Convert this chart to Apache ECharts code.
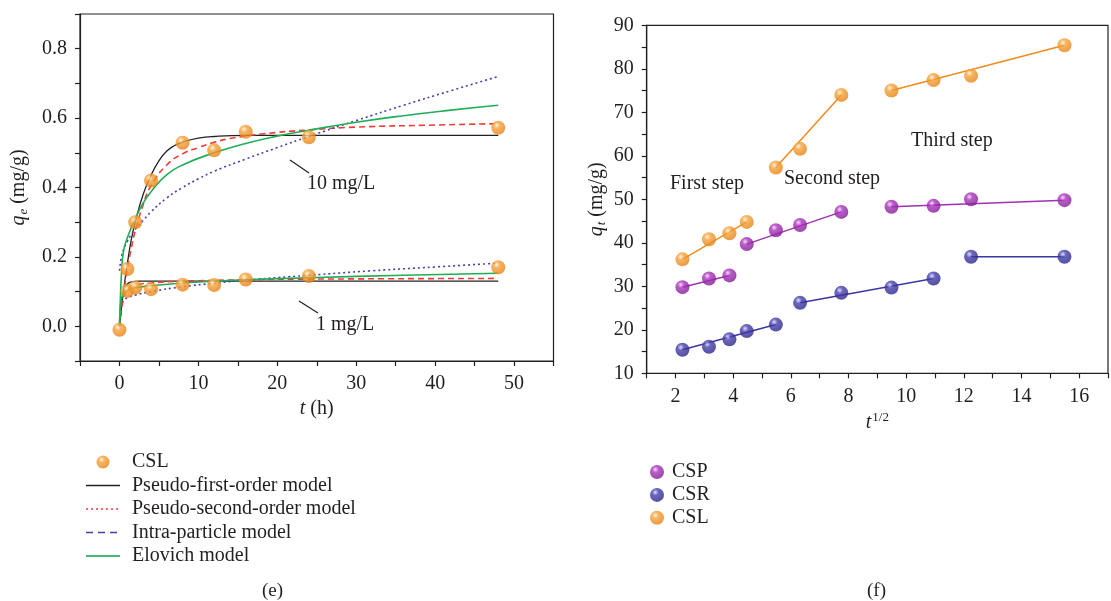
<!DOCTYPE html>
<html>
<head>
<meta charset="utf-8">
<script src="https://cdn.jsdelivr.net/npm/echarts@6.0.0/dist/echarts.min.js"></script>
<style>
  html, body { margin: 0; padding: 0; background: #fff; }
  #main { width: 1111px; height: 601px; }
</style>
</head>
<body>
<div id="main"></div>
<script>
// ---- (e) adsorption kinetics, CSL ----
const tHours = [0, 1, 2, 4, 8, 12, 16, 24, 48];
const csl10 = [-0.01, 0.165, 0.30, 0.42, 0.529, 0.507, 0.561, 0.545, 0.572];
const csl1 = [-0.01, 0.102, 0.112, 0.107, 0.12, 0.119, 0.135, 0.145, 0.17];

// model curves, [t, qe]
const pfo10 = [[0,0],[0.5,0.1],[1,0.18],[1.5,0.25],[2,0.30],[3,0.38],[4,0.435],[5,0.477],[6,0.505],[7,0.521],[8,0.531],[10,0.542],[12,0.547],[16,0.55],[24,0.55],[48,0.55]];
const pso10 = [[0,0],[0.5,0.09],[1,0.165],[1.5,0.225],[2,0.275],[3,0.35],[4,0.405],[6,0.465],[8,0.497],[10,0.515],[12,0.53],[14,0.541],[18,0.554],[24,0.566],[30,0.574],[40,0.58],[48,0.584]];
const ipd10 = [[0,0.16],[0.25,0.2],[0.5,0.22],[1,0.245],[2,0.28],[3,0.305],[4,0.33],[6,0.37],[8,0.4],[10,0.425],[12,0.447],[16,0.482],[20,0.515],[24,0.547],[30,0.593],[36,0.637],[42,0.679],[48,0.72]];
const elo10 = [[0,0],[0.1,0.07],[0.25,0.15],[0.5,0.215],[1,0.255],[2,0.31],[3,0.355],[4,0.388],[6,0.437],[8,0.465],[12,0.5],[16,0.527],[20,0.548],[24,0.565],[30,0.588],[36,0.607],[42,0.623],[48,0.637]];

const pfo1 = [[0,0],[0.3,0.07],[0.6,0.105],[1,0.122],[1.5,0.128],[2.5,0.13],[10,0.13],[48,0.13]];
const pso1 = [[0,0],[0.5,0.08],[1,0.105],[2,0.118],[4,0.125],[8,0.13],[16,0.134],[24,0.136],[48,0.138]];
const ipd1 = [[0.25,0.07],[0.6,0.077],[1,0.082],[2,0.09],[4,0.1],[8,0.114],[12,0.124],[16,0.133],[24,0.147],[32,0.16],[40,0.171],[48,0.182]];
const elo1 = [[0,0],[0.15,0.06],[0.4,0.09],[1,0.104],[2,0.111],[4,0.117],[8,0.125],[12,0.13],[16,0.134],[24,0.14],[36,0.147],[48,0.153]];

// ---- (f) intra-particle diffusion ----
const tRoot = [2.24, 3.16, 3.87, 4.47, 5.48, 6.32, 7.75, 9.49, 10.95, 12.25, 15.49];
const cspQ = [29.8, 31.8, 32.5, 39.7, 42.9, 44.1, 47.1, 48.3, 48.5, 50.0, 49.8];
const csrQ = [15.4, 16.1, 17.8, 19.7, 21.2, 26.2, 28.5, 29.7, 31.8, 36.8, 36.8];
const cslQ = [36.2, 40.8, 42.2, 44.8, 57.3, 61.6, 74.0, 75.0, 77.4, 78.4, 85.4];
// index ranges of each step
const cspSteps = [[0, 2], [3, 6], [7, 10]];
const csrSteps = [[0, 4], [5, 8], [9, 10]];
const cslSteps = [[0, 3], [4, 6], [7, 10]];

const FONT = "'Liberation Serif', 'DejaVu Serif', serif";
const INK = '#231f20';

function sphere(light, mid, dark) {
  return {
    type: 'radial', x: 0.38, y: 0.32, r: 0.75,
    colorStops: [
      { offset: 0, color: light },
      { offset: 0.3, color: mid },
      { offset: 1, color: dark }
    ]
  };
}
const orangeBall = sphere('#fff3df', '#f6a23a', '#e57d10');
const purpleBall = sphere('#f3d2f7', '#a934bb', '#7d1790');
const blueBall = sphere('#d9d8f6', '#4640ad', '#28217f');

const pair = (xs, ys) => xs.map((x, i) => [x, ys[i]]);

function curve(name, data, color, type, width) {
  return {
    name: name, type: 'line', xAxisIndex: 0, yAxisIndex: 0,
    data: data, showSymbol: false, symbol: 'none',
    smooth: 0.5,
    lineStyle: { color: color, type: type, width: width },
    itemStyle: { color: color },
    z: 2, silent: true
  };
}

function steps(name, qs, ranges, color) {
  return ranges.map(r => ({
    name: name + ' fit', type: 'line', xAxisIndex: 1, yAxisIndex: 1,
    data: [[tRoot[r[0]], qs[r[0]]], [tRoot[r[1]], qs[r[1]]]],
    showSymbol: false, symbol: 'none',
    lineStyle: { color: color, width: 1.5 }, z: 2, silent: true
  }));
}

const axisCommon = {
  axisLine: { onZero: false, lineStyle: { color: INK, width: 1.2 } },
  axisTick: { inside: false, length: 5, lineStyle: { color: INK, width: 1.2 } },
  splitLine: { show: false },
  axisLabel: { color: INK, fontFamily: FONT, fontSize: 20 }
};

const lbl = (extra) => Object.assign({}, axisCommon.axisLabel, extra);
const hideDot = { opacity: 0 };

const option = {
  animation: false,
  backgroundColor: '#fff',
  grid: [
    { left: 80, top: 14, width: 473.5, height: 347, show: true, borderColor: INK, borderWidth: 1.2 },
    { left: 646.7, top: 25.3, width: 474.7, height: 348, show: true, borderColor: INK, borderWidth: 1.2 }
  ],
  xAxis: [
    Object.assign({}, axisCommon, {
      type: 'value', gridIndex: 0, min: -5, max: 55, interval: 5,
      axisLabel: lbl({ margin: 13, formatter: v => (v % 10 === 0 && v >= 0 && v <= 50) ? String(v) : '' }),
      name: '{i|t} (h)', nameLocation: 'middle', nameGap: 38,
      nameTextStyle: { color: INK, fontFamily: FONT, fontSize: 20,
        rich: { i: { fontStyle: 'italic', fontFamily: FONT, fontSize: 20, color: INK } } }
    }),
    Object.assign({}, axisCommon, {
      type: 'value', gridIndex: 1, min: 1, max: 17, interval: 1,
      axisLabel: lbl({ margin: 13, formatter: v => (v % 2 === 0 && v <= 16) ? String(v) : '' }),
      name: '{i|t}{s|1/2}', nameLocation: 'middle', nameGap: 36,
      nameTextStyle: { color: INK, fontFamily: FONT, fontSize: 20,
        rich: {
          i: { fontStyle: 'italic', fontFamily: FONT, fontSize: 20, color: INK },
          s: { fontFamily: FONT, fontSize: 13, color: INK, padding: [0, 0, 10, 1] }
        } }
    })
  ],
  yAxis: [
    Object.assign({}, axisCommon, {
      type: 'value', gridIndex: 0, min: -0.1, max: 0.9, interval: 0.1,
      axisLabel: lbl({ margin: 13, formatter: v => {
        const k = Math.round(v * 10);
        return (k % 2 === 0 && k >= 0 && k <= 8) ? (k / 10).toFixed(1) : '';
      } }),
      name: '{i|q}{s|e} (mg/g)', nameLocation: 'middle', nameGap: 50,
      nameTextStyle: { color: INK, fontFamily: FONT, fontSize: 20,
        rich: {
          i: { fontStyle: 'italic', fontFamily: FONT, fontSize: 20, color: INK },
          s: { fontStyle: 'italic', fontFamily: FONT, fontSize: 13, color: INK, padding: [9, 0, 0, 1] }
        } }
    }),
    Object.assign({}, axisCommon, {
      type: 'value', gridIndex: 1, min: 10, max: 90, interval: 5,
      axisLabel: lbl({ margin: 13, formatter: v => (v % 10 === 0) ? String(v) : '' }),
      name: '{i|q}{s|t} (mg/g)', nameLocation: 'middle', nameGap: 39,
      nameTextStyle: { color: INK, fontFamily: FONT, fontSize: 20,
        rich: {
          i: { fontStyle: 'italic', fontFamily: FONT, fontSize: 20, color: INK },
          s: { fontStyle: 'italic', fontFamily: FONT, fontSize: 13, color: INK, padding: [9, 0, 0, 1] }
        } }
    })
  ],
  legend: [
    {
      orient: 'vertical', left: 80, top: 447, itemWidth: 34, itemHeight: 13, itemGap: 3.5,
      selectedMode: false,
      textStyle: { color: INK, fontFamily: FONT, fontSize: 20, padding: [0, 0, 0, 7] },
      data: [
        { name: 'CSL', icon: 'circle' },
        { name: 'Pseudo-first-order model', itemStyle: hideDot, lineStyle: { color: '#222', width: 1.5, type: 'solid' } },
        { name: 'Pseudo-second-order model', itemStyle: hideDot, lineStyle: { color: '#ee3b36', width: 1.5, type: [2, 3] } },
        { name: 'Intra-particle model', itemStyle: hideDot, lineStyle: { color: '#4a3fb0', width: 1.5, type: [7, 5] } },
        { name: 'Elovich model', itemStyle: hideDot, lineStyle: { color: '#3cc07a', width: 2, type: 'solid' } }
      ]
    },
    {
      orient: 'vertical', left: 645, top: 457, itemWidth: 14, itemHeight: 14, itemGap: 2.9,
      selectedMode: false,
      textStyle: { color: INK, fontFamily: FONT, fontSize: 20, padding: [0, 0, 0, 3] },
      data: [
        { name: 'CSP', icon: 'circle' },
        { name: 'CSR', icon: 'circle' },
        { name: 'CSL ', icon: 'circle' }
      ]
    }
  ],
  graphic: [
    { type: 'line', shape: { x1: 290, y1: 160, x2: 309, y2: 173 }, style: { stroke: INK, lineWidth: 1.2 } },
    { type: 'text', left: 307, top: 174, style: { text: '10 mg/L', font: '20px ' + FONT, fill: INK } },
    { type: 'line', shape: { x1: 299, y1: 301, x2: 318, y2: 313 }, style: { stroke: INK, lineWidth: 1.2 } },
    { type: 'text', left: 316, top: 315, style: { text: '1 mg/L', font: '20px ' + FONT, fill: INK } },
    { type: 'text', left: 670, top: 174, style: { text: 'First step', font: '20px ' + FONT, fill: INK } },
    { type: 'text', left: 784, top: 169, style: { text: 'Second step', font: '20px ' + FONT, fill: INK } },
    { type: 'text', left: 911, top: 131, style: { text: 'Third step', font: '20px ' + FONT, fill: INK } },
    { type: 'text', left: 262, top: 582, style: { text: '(e)', font: '19px ' + FONT, fill: INK } },
    { type: 'text', left: 867, top: 582, style: { text: '(f)', font: '19px ' + FONT, fill: INK } }
  ],
  series: [
    curve('Pseudo-first-order model', pfo10, '#222', 'solid', 1.3),
    curve('Pseudo-first-order model', pfo1, '#222', 'solid', 1.3),
    curve('Pseudo-second-order model', pso10, '#ee3b36', [6, 4], 1.6),
    curve('Pseudo-second-order model', pso1, '#ee3b36', [6, 4], 1.6),
    curve('Intra-particle model', ipd10, '#4a3fb0', [2, 3], 1.6),
    curve('Intra-particle model', ipd1, '#4a3fb0', [2, 3], 1.6),
    curve('Elovich model', elo10, '#1fae55', 'solid', 1.6),
    curve('Elovich model', elo1, '#1fae55', 'solid', 1.6),
    {
      name: 'CSL', type: 'scatter', xAxisIndex: 0, yAxisIndex: 0,
      data: pair(tHours, csl10).concat(pair(tHours.slice(1), csl1.slice(1))),
      symbol: 'circle', symbolSize: 14, itemStyle: { color: orangeBall }, z: 5
    },
    ...steps('CSL', cslQ, cslSteps, '#f08c1e'),
    ...steps('CSP', cspQ, cspSteps, '#a22fb4'),
    ...steps('CSR', csrQ, csrSteps, '#3c36a3'),
    { name: 'CSP', type: 'scatter', xAxisIndex: 1, yAxisIndex: 1, data: pair(tRoot, cspQ),
      symbolSize: 14, itemStyle: { color: purpleBall }, z: 5 },
    { name: 'CSR', type: 'scatter', xAxisIndex: 1, yAxisIndex: 1, data: pair(tRoot, csrQ),
      symbolSize: 14, itemStyle: { color: blueBall }, z: 5 },
    { name: 'CSL ', type: 'scatter', xAxisIndex: 1, yAxisIndex: 1, data: pair(tRoot, cslQ),
      symbolSize: 14, itemStyle: { color: orangeBall }, z: 5 }
  ]
};

const chart = echarts.init(document.getElementById('main'));
chart.setOption(option);
</script>
</body>
</html>
